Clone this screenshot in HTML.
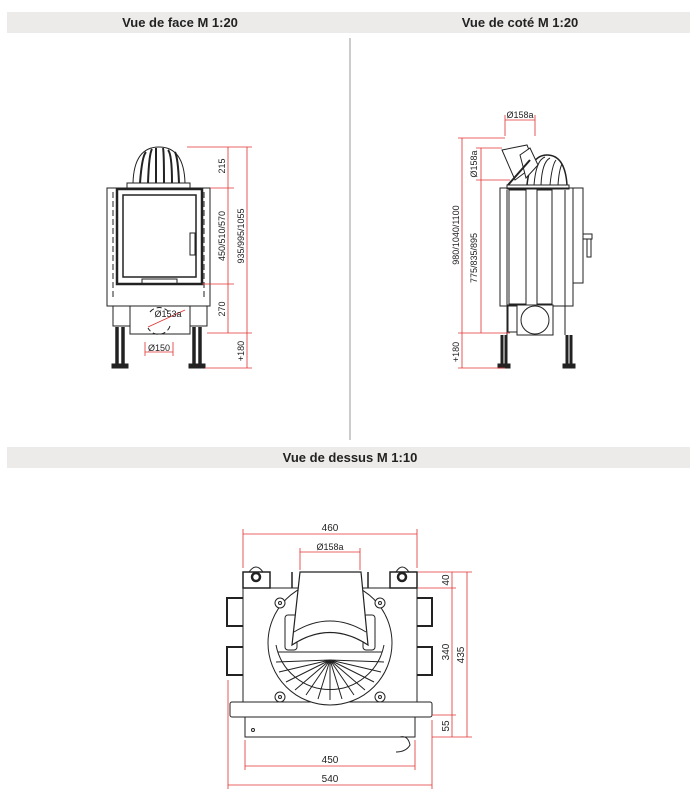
<!DOCTYPE html>
<html><head><meta charset="utf-8"><style>
html,body{margin:0;padding:0;background:#fff;width:700px;height:798px;overflow:hidden}
</style></head><body>
<svg width="700" height="798" viewBox="0 0 700 798" xmlns="http://www.w3.org/2000/svg" font-family="Liberation Sans, sans-serif">
<rect x="7" y="12" width="683" height="21" fill="#ecebe9"/>
<text x="180" y="27" font-size="13" font-weight="bold" text-anchor="middle" fill="#222">Vue de face M 1:20</text>
<text x="520" y="27" font-size="13" font-weight="bold" text-anchor="middle" fill="#222">Vue de coté M 1:20</text>
<line x1="350" y1="38" x2="350" y2="440" stroke="#aaa" stroke-width="1.2"/>
<rect x="7" y="447" width="683" height="21" fill="#ecebe9"/>
<text x="350" y="462" font-size="13" font-weight="bold" text-anchor="middle" fill="#222">Vue de dessus M 1:10</text>

<!-- FRONT VIEW -->
<g stroke="#222" fill="none" stroke-width="1">
<path d="M133 183 Q134 147 159 147 Q184 147 185 183 Z" fill="#fff"/>
<path d="M140 183 Q142 156 146 152 M148 183 Q149 154 152 149 M156 183 L156 148 M164 183 Q164 152 163 148 M172 183 Q172 154 168 150 M179 183 Q178 158 175 152" stroke-width="2"/>
<rect x="127" y="183" width="63" height="5" fill="#fff"/>
<rect x="107" y="188" width="103" height="118" fill="#fff"/>
<line x1="113" y1="192" x2="113" y2="300" stroke-dasharray="6,3"/>
<line x1="204" y1="192" x2="204" y2="300" stroke-dasharray="6,3"/>
<rect x="117" y="189" width="85" height="95" stroke-width="2.5"/>
<rect x="123" y="195" width="73" height="82" stroke-width="1.5"/>
<rect x="190" y="233" width="5" height="22" fill="#fff"/>
<rect x="142" y="279" width="35" height="5"/>
<rect x="113" y="306" width="17" height="20"/>
<rect x="190" y="306" width="17" height="20"/>
<rect x="130" y="306" width="60" height="28"/>
<path d="M150 312 A12 12 0 0 1 170 314 M170 326 A12 12 0 0 1 148 328" stroke-dasharray="5,3"/>
<g stroke-width="3.5"><line x1="117" y1="327" x2="117" y2="366"/><line x1="123" y1="327" x2="123" y2="366"/><line x1="194" y1="327" x2="194" y2="366"/><line x1="200" y1="327" x2="200" y2="366"/></g>
<rect x="112" y="364" width="16" height="4" fill="#222"/>
<rect x="189" y="364" width="16" height="4" fill="#222"/>
</g>
<g stroke="#e03030" stroke-width="0.8" fill="none">
<line x1="187" y1="147" x2="252" y2="147"/>
<line x1="210" y1="188" x2="234" y2="188"/>
<line x1="202" y1="284" x2="234" y2="284"/>
<line x1="207" y1="333" x2="252" y2="333"/>
<line x1="205" y1="368" x2="252" y2="368"/>
<line x1="228" y1="147" x2="228" y2="333"/>
<line x1="247" y1="147" x2="247" y2="368"/>
<line x1="145" y1="352" x2="173" y2="352"/>
<line x1="145" y1="342" x2="145" y2="356"/><line x1="173" y1="342" x2="173" y2="356"/>
<line x1="148" y1="327" x2="185" y2="310"/>
</g>
<g font-size="9" fill="#222" text-anchor="middle">
<text transform="translate(225 166) rotate(-90)">215</text>
<text transform="translate(225 236) rotate(-90)">450/510/570</text>
<text transform="translate(244 236) rotate(-90)">935/995/1055</text>
<text transform="translate(225 309) rotate(-90)">270</text>
<text transform="translate(244 351) rotate(-90)">+180</text>
<text x="159" y="351">Ø150</text>
<text x="168" y="317">Ø153a</text>
</g>

<!-- SIDE VIEW -->
<g stroke="#222" fill="none" stroke-width="1">
<path d="M527 185 Q530 155 547 155 Q565 155 567 185" fill="#fff" stroke-width="1.5"/>
<path d="M534 185 Q536 160 545 157 M541 185 Q542 162 550 158 M550 185 Q552 165 556 160 M558 185 Q559 170 562 164" />
<path d="M502 150 L527 145 L535 165 L515 180 Z" fill="#fff"/>
<path d="M520 155 L530 148 L538 165 L526 178 Z" fill="#fff"/>
<line x1="508" y1="185" x2="530" y2="160" stroke-width="2"/>
<rect x="500" y="188" width="73" height="118" fill="#fff"/>
<rect x="507" y="185" width="62" height="4"/>
<rect x="509" y="190" width="17" height="114"/>
<rect x="537" y="190" width="15" height="114"/>
<line x1="507" y1="190" x2="507" y2="335"/>
<line x1="565" y1="190" x2="565" y2="335"/>
<rect x="573" y="188" width="10" height="95"/>
<rect x="583" y="234" width="9" height="5"/><rect x="587" y="239" width="4" height="18"/>
<rect x="508" y="305" width="10" height="27"/>
<rect x="517" y="305" width="36" height="30" fill="#fff"/>
<circle cx="535" cy="320" r="14"/>
<g stroke-width="3"><line x1="502" y1="335" x2="502" y2="366"/><line x1="506" y1="335" x2="506" y2="366"/><line x1="567" y1="335" x2="567" y2="366"/><line x1="571" y1="335" x2="571" y2="366"/></g>
<rect x="498" y="364" width="12" height="4" fill="#222"/>
<rect x="563" y="364" width="12" height="4" fill="#222"/>
</g>
<g stroke="#e03030" stroke-width="0.8" fill="none">
<line x1="458" y1="138" x2="505" y2="138"/>
<line x1="476" y1="148" x2="502" y2="148"/>
<line x1="476" y1="180" x2="510" y2="180"/>
<line x1="458" y1="333" x2="510" y2="333"/>
<line x1="458" y1="368" x2="505" y2="368"/>
<line x1="462" y1="138" x2="462" y2="368"/>
<line x1="481" y1="148" x2="481" y2="333"/>
<line x1="505" y1="120" x2="535" y2="120"/>
<line x1="505" y1="115" x2="505" y2="136"/><line x1="535" y1="115" x2="535" y2="136"/>
</g>
<g font-size="9" fill="#222" text-anchor="middle">
<text x="520" y="118">Ø158a</text>
<text transform="translate(477 164) rotate(-90)">Ø158a</text>
<text transform="translate(459 235) rotate(-90)">980/1040/1100</text>
<text transform="translate(477 258) rotate(-90)">775/835/895</text>
<text transform="translate(459 352) rotate(-90)">+180</text>
</g>

<!-- TOP VIEW -->
<g stroke="#222" fill="none" stroke-width="1">
<rect x="243" y="588" width="174" height="114" fill="#fff"/>
<rect x="230" y="702" width="202" height="15" rx="2" fill="#fff"/>
<rect x="245" y="717" width="170" height="20"/>
<circle cx="253" cy="730" r="1.5"/>
<path d="M400 737 Q408 735 410 745 Q406 752 396 752" />
<rect x="243" y="572" width="27" height="16" stroke-width="1.5"/>
<rect x="390" y="572" width="27" height="16" stroke-width="1.5"/>
<circle cx="256" cy="577" r="4" stroke-width="2.5"/>
<circle cx="402" cy="577" r="4" stroke-width="2.5"/>
<path d="M249 572 Q256 562 263 572 M396 572 Q402 562 409 572"/>
<path d="M243 598 H227 V626 H243 M243 647 H227 V675 H243" stroke-width="2"/>
<path d="M417 598 H432 V626 H417 M417 647 H432 V675 H417" stroke-width="2"/>
<path d="M292 572 V588 M368 572 V588" stroke-width="1.5"/>
<circle cx="330" cy="643" r="62" fill="#fff"/>
<path d="M276 645 A55 55 0 0 0 384 645" />
<g stroke-width="1">
<path d="M330 660 L330 700 M330 660 L318 699 M330 660 L342 699 M330 660 L306 695 M330 660 L354 695 M330 660 L295 690 M330 660 L365 690 M330 660 L286 682 M330 660 L374 682 M330 660 L279 672 M330 660 L381 672 M330 660 L276 662 M330 660 L384 662"/>
</g>
<path d="M278 652 H382" />
<rect x="285" y="615" width="12" height="35" rx="3" fill="#fff"/>
<rect x="363" y="615" width="12" height="35" rx="3" fill="#fff"/>
<path d="M300 572 H361 L368 645 Q330 620 292 645 Z" fill="#fff" stroke-width="1.2"/>
<path d="M294 632 Q330 610 366 632"/>
<g fill="#fff">
<circle cx="280" cy="603" r="5"/><circle cx="380" cy="603" r="5"/>
<circle cx="280" cy="697" r="5"/><circle cx="380" cy="697" r="5"/>
</g>
<circle cx="280" cy="603" r="1.5"/><circle cx="380" cy="603" r="1.5"/>
<circle cx="280" cy="697" r="1.5"/><circle cx="380" cy="697" r="1.5"/>
</g>
<g stroke="#e03030" stroke-width="0.8" fill="none">
<line x1="243" y1="534" x2="417" y2="534"/>
<line x1="243" y1="529" x2="243" y2="568"/><line x1="417" y1="529" x2="417" y2="568"/>
<line x1="300" y1="552" x2="360" y2="552"/>
<line x1="300" y1="548" x2="300" y2="570"/><line x1="360" y1="548" x2="360" y2="570"/>
<line x1="418" y1="572" x2="472" y2="572"/>
<line x1="418" y1="588" x2="456" y2="588"/>
<line x1="432" y1="715" x2="456" y2="715"/>
<line x1="432" y1="737" x2="472" y2="737"/>
<line x1="452" y1="572" x2="452" y2="737"/>
<line x1="467" y1="572" x2="467" y2="737"/>
<line x1="245" y1="740" x2="245" y2="770"/><line x1="415" y1="740" x2="415" y2="770"/>
<line x1="245" y1="766" x2="415" y2="766"/>
<line x1="228" y1="680" x2="228" y2="789"/><line x1="432" y1="720" x2="432" y2="789"/>
<line x1="228" y1="785" x2="432" y2="785"/>
</g>
<g font-size="10" fill="#222" text-anchor="middle">
<text x="330" y="531">460</text>
<text x="330" y="550" font-size="9">Ø158a</text>
<text transform="translate(449 580) rotate(-90)">40</text>
<text transform="translate(449 652) rotate(-90)">340</text>
<text transform="translate(449 726) rotate(-90)">55</text>
<text transform="translate(464 655) rotate(-90)">435</text>
<text x="330" y="763">450</text>
<text x="330" y="782">540</text>
</g>
</svg>
</body></html>
